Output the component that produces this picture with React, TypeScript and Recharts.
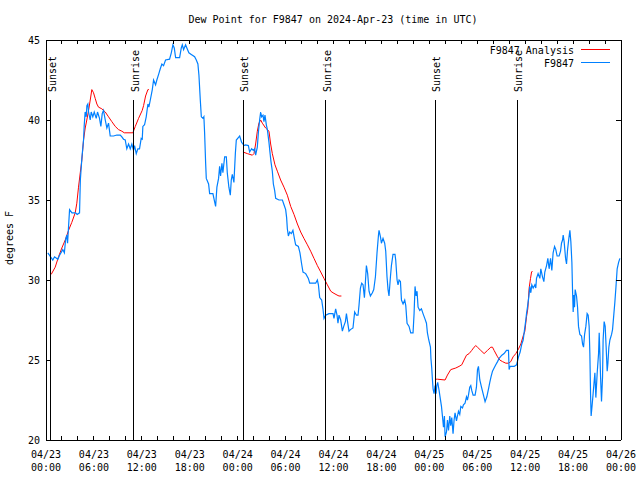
import { ComposedChart, Line, XAxis, YAxis, ReferenceLine } from "recharts";

const FONT = "'DejaVu Sans Mono', 'Liberation Mono', monospace";
const RED = "#ff0000";
const BLUE = "#0080ff";

// [hours since 04/23 00:00 UTC, dew point °F]
const obsApr23: [number, number][] = [
  [0.23, 31.7], [0.85, 31.25], [1.07, 31.45], [1.48, 31.3], [1.7, 31.55], [2.1, 31.9], [2.3, 31.7], [2.45, 32.5],
  [2.6, 32.8], [2.7, 32.3], [2.95, 34.4], [3.25, 34.2], [3.7, 34.2], [3.9, 34.1], [4.2, 34.2], [4.3, 36.25],
  [4.49, 37.6], [4.7, 38.75], [4.78, 39.6], [4.9, 40.5], [5.04, 40.2], [5.12, 40.9], [5.24, 41.0], [5.33, 40.5],
  [5.54, 40.0], [5.66, 40.5], [5.86, 40.2], [6.04, 40.5], [6.29, 40.1], [6.45, 40.5], [6.7, 40.1], [6.87, 39.6],
  [7.04, 40.4], [7.2, 40.6], [7.42, 40.0], [7.62, 39.5], [7.83, 39.8], [8.04, 39.0], [8.46, 39.0], [8.87, 39.06],
  [9.3, 39.06], [9.5, 38.95], [9.71, 38.8], [9.92, 38.75], [10.12, 38.2], [10.34, 38.5], [10.55, 38.2], [10.75, 38.5],
  [10.96, 38.1], [11.09, 38.4], [11.3, 37.9], [11.5, 38.2], [11.71, 38.2], [11.92, 38.85], [12.05, 38.8], [12.13, 39.6],
  [12.34, 39.7], [12.55, 40.2], [12.76, 41.0], [12.88, 40.8], [13.06, 41.25], [13.31, 41.9], [13.47, 42.5], [13.72, 42.2],
  [13.88, 42.5], [14.13, 42.9], [14.31, 43.2], [14.51, 43.5], [14.72, 43.4], [14.97, 43.75], [15.47, 43.8], [15.69, 44.2],
  [15.89, 44.7], [16.06, 44.5], [16.23, 43.9], [16.73, 43.9], [16.94, 44.5], [17.07, 44.7], [17.23, 44.4], [17.48, 44.7],
  [17.64, 44.5], [17.89, 44.2], [18.19, 44.1], [18.61, 43.96], [18.82, 43.75], [19.02, 43.5], [19.15, 42.8], [19.32, 41.25],
  [19.45, 40.2], [19.65, 40.1], [19.77, 40.2], [19.86, 39.2], [19.99, 37.3], [20.07, 36.35], [20.36, 36.0], [20.49, 35.4],
  [20.9, 35.4], [21.11, 34.9], [21.24, 34.6], [21.4, 35.8], [21.61, 36.35], [21.74, 37.1], [21.86, 36.5], [22.03, 37.3],
  [22.15, 36.7], [22.37, 37.7], [22.58, 37.7], [22.7, 36.7], [22.9, 35.8], [23.08, 35.3], [23.2, 36.25], [23.33, 36.6],
  [23.53, 36.1], [23.71, 37.9], [23.83, 38.75],
];

const obsApr24: [number, number][] = [
  [24.16, 38.95], [24.25, 39.0], [24.5, 38.6], [24.66, 38.5], [24.78, 38.4], [24.99, 38.44], [25.34, 38.4], [25.5, 38.0],
  [25.75, 38.2], [25.96, 38.1], [26.13, 38.2], [26.25, 37.8], [26.46, 38.3], [26.59, 39.2], [26.75, 40.0], [26.88, 40.5],
  [27.0, 40.2], [27.17, 40.3], [27.29, 39.9], [27.42, 40.3], [27.59, 39.7], [27.72, 39.4], [27.92, 38.6], [28.04, 38.0],
  [28.17, 37.4], [28.34, 36.8], [28.47, 36.0], [28.63, 35.6], [28.76, 35.1], [29.17, 35.0], [29.6, 35.0], [29.8, 34.7],
  [30.01, 34.4], [30.13, 33.9], [30.22, 33.2], [30.35, 32.75], [30.51, 33.0], [30.72, 32.9], [30.92, 33.1], [31.1, 32.6],
  [31.26, 32.2], [31.6, 32.1], [31.8, 31.7], [32.01, 31.0], [32.18, 30.5], [32.52, 30.4], [32.85, 30.1], [33.02, 29.8],
  [33.36, 29.8], [33.77, 29.8], [33.98, 30.0], [34.11, 29.7], [34.27, 28.9], [34.52, 28.75], [34.68, 28.2], [34.81, 27.6],
  [35.02, 27.8], [35.43, 27.9], [35.94, 27.9], [36.06, 27.6], [36.27, 28.2], [36.44, 27.8], [36.56, 27.3], [36.69, 27.8],
  [36.9, 27.5], [37.11, 26.8], [37.28, 27.1], [37.49, 27.4], [37.62, 27.9], [37.82, 27.2], [37.94, 26.8], [38.12, 26.9],
  [38.44, 27.0], [38.65, 28.0], [38.87, 27.8], [39.07, 27.8], [39.19, 28.4], [39.37, 29.5], [39.53, 29.8], [39.7, 29.7],
  [39.87, 28.9], [39.95, 29.5], [40.12, 30.9], [40.28, 30.4], [40.45, 29.3], [40.62, 29.0], [40.87, 29.2], [41.04, 29.4],
  [41.25, 30.2], [41.45, 31.7], [41.63, 32.8], [41.7, 33.1], [41.88, 32.7], [42.0, 32.3], [42.2, 32.6], [42.41, 32.3],
  [42.54, 31.8], [42.7, 30.2], [42.83, 29.4], [42.95, 29.0], [43.13, 30.2], [43.25, 30.9], [43.45, 31.6], [43.7, 31.6],
  [43.79, 31.25], [43.96, 30.0], [44.08, 29.7], [44.21, 30.0], [44.38, 29.9], [44.51, 28.75], [44.71, 28.5], [44.92, 28.75],
  [45.05, 28.4], [45.21, 27.3], [45.46, 27.1], [45.67, 26.7], [45.96, 26.7], [46.09, 27.9], [46.21, 29.6], [46.34, 29.0],
  [46.46, 29.3], [46.59, 28.3], [46.8, 28.1], [47.01, 28.2], [47.21, 27.9], [47.43, 27.6], [47.64, 27.3], [47.76, 26.7],
  [47.93, 26.25],
];

const obsApr25: [number, number][] = [
  [48.14, 25.8], [48.2, 25.1], [48.3, 24.5], [48.39, 23.75], [48.47, 23.2], [48.59, 22.9], [48.72, 23.4], [48.84, 22.9],
  [48.93, 23.4], [49.05, 23.6], [49.22, 23.1], [49.34, 22.7], [49.52, 22.1], [49.64, 21.5], [49.77, 20.8], [49.89, 21.5],
  [49.97, 20.2], [50.15, 20.5], [50.27, 21.25], [50.4, 20.6], [50.56, 21.5], [50.68, 20.9], [50.81, 21.4], [50.97, 20.4],
  [51.1, 21.25], [51.22, 21.7], [51.4, 21.2], [51.52, 21.5], [51.65, 21.8], [51.81, 21.6], [51.94, 22.1], [52.15, 22.0],
  [52.27, 22.2], [52.47, 22.3], [52.65, 22.7], [52.77, 22.5], [52.9, 22.8], [53.06, 23.3], [53.19, 23.4], [53.31, 23.1],
  [53.48, 22.8], [53.73, 22.8], [53.9, 23.3], [54.03, 24.4], [54.15, 24.6], [54.32, 23.75], [54.53, 23.3], [54.73, 22.9],
  [54.98, 22.4], [55.2, 22.7], [55.41, 23.2], [55.57, 23.6], [55.73, 23.96], [55.91, 24.3], [56.11, 24.5], [56.32, 24.7],
  [56.54, 24.9], [56.74, 25.1], [57.08, 25.3], [57.36, 25.4], [57.66, 25.6], [57.91, 25.6], [57.99, 24.4], [58.11, 24.6],
  [58.62, 24.6], [58.92, 24.7], [59.17, 25.2], [59.37, 25.5], [59.58, 26.0], [59.75, 26.25], [59.92, 26.9], [60.08, 27.5],
  [60.17, 27.9], [60.29, 28.3], [60.46, 28.96], [60.58, 29.6], [60.71, 29.2], [60.83, 29.7], [61.0, 29.5], [61.21, 29.7],
  [61.33, 29.5], [61.42, 30.1], [61.62, 30.4], [61.84, 30.1], [61.96, 30.7], [62.17, 30.2], [62.34, 29.9], [62.46, 30.5],
  [62.68, 30.9], [62.84, 31.35], [63.0, 30.7], [63.18, 31.35], [63.34, 30.6], [63.5, 31.7], [63.68, 32.1], [63.84, 31.9],
  [64.0, 31.5], [64.25, 31.5], [64.43, 31.8], [64.55, 32.3], [64.68, 32.5], [64.76, 32.8], [64.88, 32.4], [65.06, 31.35],
  [65.18, 31.0], [65.31, 31.9], [65.47, 32.6], [65.6, 33.1], [65.72, 32.4], [65.85, 31.1], [65.93, 29.4], [66.01, 28.0],
  [66.1, 29.06], [66.18, 28.3], [66.26, 29.4], [66.43, 29.0], [66.56, 28.3], [66.68, 27.1], [66.85, 26.6], [67.06, 26.5],
  [67.19, 26.0], [67.31, 25.8], [67.44, 26.6], [67.6, 27.1], [67.76, 27.9], [67.89, 27.8], [68.01, 27.1], [68.1, 25.4],
  [68.19, 22.8], [68.26, 21.5], [68.39, 22.2], [68.51, 22.9], [68.73, 24.2], [68.85, 22.65], [69.02, 24.2], [69.19, 25.4],
  [69.27, 26.7], [69.35, 25.5], [69.44, 23.96], [69.56, 22.4], [69.69, 23.96], [69.76, 26.25], [69.89, 27.4], [70.02, 27.1],
  [70.14, 25.8], [70.27, 24.3], [70.36, 24.8], [70.48, 25.8], [70.61, 26.25], [70.82, 26.6], [70.94, 26.9], [71.11, 27.9],
  [71.23, 28.6], [71.36, 29.5], [71.52, 30.7], [71.7, 31.1], [71.86, 31.35],
];

const analysisApr23: [number, number][] = [
  [0.65, 30.35], [1.15, 30.8], [1.57, 31.45], [1.98, 32.0], [2.41, 32.5], [2.82, 33.1], [3.23, 33.6], [3.66, 34.2],
  [3.86, 34.8], [4.07, 35.8], [4.29, 36.7], [4.49, 37.5], [4.7, 38.75], [4.91, 39.5], [5.11, 40.0], [5.33, 40.6],
  [5.54, 41.25], [5.74, 41.9], [5.95, 41.7], [6.16, 41.35], [6.37, 41.0], [6.58, 40.8], [6.99, 40.7], [7.42, 40.5],
  [7.83, 40.2], [8.24, 39.9], [8.67, 39.6], [9.08, 39.4], [9.5, 39.3], [9.8, 39.2], [10.88, 39.2], [11.18, 39.6],
  [11.59, 40.1], [12.05, 40.6], [12.22, 40.9], [12.47, 41.5], [12.76, 41.9], [12.88, 41.9],
];

const analysisApr24: [number, number][] = [
  [24.66, 38.0], [25.21, 37.9], [25.84, 37.8], [26.04, 37.9], [26.25, 38.5], [26.46, 39.3], [26.66, 39.8], [26.88, 40.0],
  [27.09, 39.8], [27.5, 39.5], [27.92, 39.3], [28.13, 38.5], [28.34, 37.9], [28.67, 37.2], [28.97, 36.8], [29.38, 36.25],
  [29.8, 35.8], [30.22, 35.3], [30.64, 34.6], [31.05, 34.1], [31.48, 33.5], [31.89, 33.0], [32.3, 32.6], [32.73, 32.2],
  [33.14, 31.8], [33.56, 31.35], [33.98, 30.9], [34.4, 30.5], [34.81, 30.1], [35.23, 29.7], [35.65, 29.3], [35.94, 29.2],
  [36.44, 29.06], [36.69, 29.0], [36.99, 29.0],
];

const analysisApr25: [number, number][] = [
  [48.72, 23.8], [49.02, 23.8], [49.97, 23.75], [50.27, 24.06], [50.68, 24.4], [51.31, 24.5], [51.72, 24.6], [52.06, 24.7],
  [52.35, 25.0], [52.65, 25.3], [52.98, 25.4], [53.31, 25.6], [53.6, 25.8], [53.82, 25.9], [54.03, 25.8], [54.44, 25.6],
  [54.86, 25.4], [55.28, 25.6], [55.7, 25.8], [55.91, 25.8], [56.11, 25.6], [56.54, 25.2], [56.82, 25.0], [57.16, 24.9],
  [57.58, 24.8], [57.91, 24.8], [58.2, 24.9], [58.49, 25.2], [58.83, 25.4], [59.17, 25.7], [59.46, 26.0], [59.75, 26.5],
  [59.96, 26.8], [60.17, 27.7], [60.33, 28.2], [60.5, 29.5], [60.67, 30.1], [60.8, 30.5], [60.92, 30.56],
];

const sunsetHours = [0.6, 24.67, 48.72];
const sunriseHours = [10.98, 35.02, 58.98];

const tickDates = ["04/23", "04/23", "04/23", "04/23", "04/24", "04/24", "04/24", "04/24", "04/25", "04/25", "04/25", "04/25", "04/26"];
const tickTimes = ["00:00", "06:00", "12:00", "18:00", "00:00", "06:00", "12:00", "18:00", "00:00", "06:00", "12:00", "18:00", "00:00"];
const xTicks = [0, 2, 4, 6, 8, 10, 12, 14, 16, 18, 20, 22, 24, 26, 28, 30, 32, 34, 36, 38, 40, 42, 44, 46, 48, 50, 52, 54, 56, 58, 60, 62, 64, 66, 68, 70, 72];
const yTicks = [20, 25, 30, 35, 40, 45];

const toRows = (pts: [number, number][]) => pts.map(([t, v]) => ({ t, v }));
const obsData = toRows([...obsApr23, ...obsApr24, ...obsApr25]);

function BottomTick({ x, y, payload }: any) {
  const i = payload.value / 6;
  const major = payload.value % 6 === 0;
  return (
    <g>
      <line x1={x} y1={y} x2={x} y2={y - 4} stroke="#000" shapeRendering="crispEdges" />
      {major && (
        <text x={x} textAnchor="middle" fontFamily={FONT} fontSize={10} fill="#000">
          <tspan x={x} y={y + 18}>{tickDates[i]}</tspan>
          <tspan x={x} y={y + 31}>{tickTimes[i]}</tspan>
        </text>
      )}
    </g>
  );
}

function TopTick({ x, y }: any) {
  return <line x1={x} y1={y} x2={x} y2={y + 4} stroke="#000" shapeRendering="crispEdges" />;
}

function LeftTick({ x, y, payload }: any) {
  return (
    <g>
      <line x1={x} y1={y} x2={x + 5} y2={y} stroke="#000" shapeRendering="crispEdges" />
      <text x={x - 6} y={y + 4} textAnchor="end" fontFamily={FONT} fontSize={10} fill="#000">
        {payload.value}
      </text>
    </g>
  );
}

function RightTick({ x, y }: any) {
  return <line x1={x} y1={y} x2={x - 5} y2={y} stroke="#000" shapeRendering="crispEdges" />;
}

function SunLabel({ viewBox, text }: any) {
  const x = viewBox.x + 5;
  const y = viewBox.y - 8;
  return (
    <text x={x} y={y} transform={`rotate(-90 ${x} ${y})`} fontFamily={FONT} fontSize={10} fill="#000">
      {text}
    </text>
  );
}

export default function App() {
  return (
    <div style={{ position: "absolute", left: 0, top: 0, width: 640, height: 480, background: "#fff" }}>
      <ComposedChart width={640} height={480} margin={{ top: 39, right: 18, bottom: 39, left: 45 }}>
        <XAxis
          dataKey="t"
          type="number"
          domain={[0, 72]}
          ticks={xTicks}
          interval={0}
          height={1}
          tickSize={0}
          tickMargin={0}
          tickLine={false}
          axisLine={{ stroke: "#000", shapeRendering: "crispEdges" }}
          tick={<BottomTick />}
          allowDataOverflow
        />
        <XAxis
          xAxisId="top"
          orientation="top"
          dataKey="t"
          type="number"
          domain={[0, 72]}
          ticks={xTicks}
          interval={0}
          height={1}
          tickSize={0}
          tickMargin={0}
          tickLine={false}
          axisLine={{ stroke: "#000", shapeRendering: "crispEdges" }}
          tick={<TopTick />}
          allowDataOverflow
        />
        <YAxis
          type="number"
          domain={[20, 45]}
          ticks={yTicks}
          interval={0}
          width={1}
          tickSize={0}
          tickMargin={0}
          tickLine={false}
          axisLine={{ stroke: "#000", shapeRendering: "crispEdges" }}
          tick={<LeftTick />}
          allowDataOverflow
        />
        <YAxis
          yAxisId="right"
          orientation="right"
          type="number"
          domain={[20, 45]}
          ticks={yTicks}
          interval={0}
          width={1}
          tickSize={0}
          tickMargin={0}
          tickLine={false}
          axisLine={{ stroke: "#000", shapeRendering: "crispEdges" }}
          tick={<RightTick />}
          allowDataOverflow
        />
        <Line data={toRows(analysisApr23)} dataKey="v" stroke={RED} strokeWidth={1} dot={false} activeDot={false} isAnimationActive={false} />
        <Line data={toRows(analysisApr24)} dataKey="v" stroke={RED} strokeWidth={1} dot={false} activeDot={false} isAnimationActive={false} />
        <Line data={toRows(analysisApr25)} dataKey="v" stroke={RED} strokeWidth={1} dot={false} activeDot={false} isAnimationActive={false} />
        <Line data={obsData} dataKey="v" stroke={BLUE} strokeWidth={1.2} dot={false} activeDot={false} isAnimationActive={false} />
        {sunsetHours.map((h) => (
          <ReferenceLine
            key={`ss${h}`}
            segment={[{ x: h, y: 20 }, { x: h, y: 41.25 }]}
            stroke="#000"
            shapeRendering="crispEdges"
            label={<SunLabel text="Sunset" />}
          />
        ))}
        {sunriseHours.map((h) => (
          <ReferenceLine
            key={`sr${h}`}
            segment={[{ x: h, y: 20 }, { x: h, y: 41.25 }]}
            stroke="#000"
            shapeRendering="crispEdges"
            label={<SunLabel text="Sunrise" />}
          />
        ))}
      </ComposedChart>
      <svg width={640} height={480} style={{ position: "absolute", left: 0, top: 0, pointerEvents: "none" }}>
        <text x={333} y={23} textAnchor="middle" fontFamily={FONT} fontSize={10} fill="#000">
          Dew Point for F9847 on 2024-Apr-23 (time in UTC)
        </text>
        <text x={13} y={238} transform="rotate(-90 13 238)" textAnchor="middle" fontFamily={FONT} fontSize={10} fill="#000">
          degrees F
        </text>
        <text x={574} y={54} textAnchor="end" fontFamily={FONT} fontSize={10} fill="#000">F9847 Analysis</text>
        <line x1={581} y1={49.5} x2={610} y2={49.5} stroke={RED} />
        <text x={574} y={67} textAnchor="end" fontFamily={FONT} fontSize={10} fill="#000">F9847</text>
        <line x1={581} y1={62.5} x2={610} y2={62.5} stroke={BLUE} />
      </svg>
    </div>
  );
}
